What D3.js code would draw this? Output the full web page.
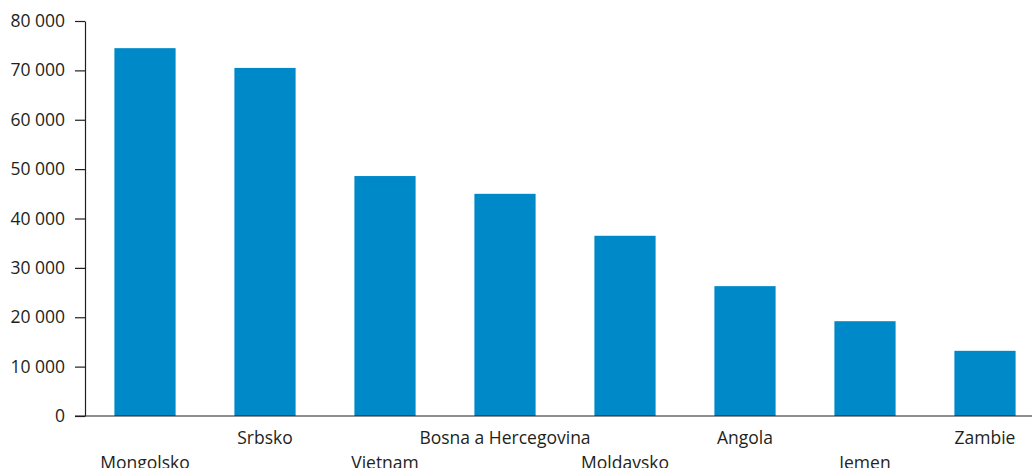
<!DOCTYPE html>
<html>
<head>
<meta charset="utf-8">
<script src="https://cdn.jsdelivr.net/npm/d3@7"></script>
<style>
  body { margin: 0; background: white; }
  text { font-family: "Open Sans", sans-serif; fill: #231f20; }
</style>
</head>
<body>
<svg id="chart" width="1032" height="468"></svg>
<script>
// Données
const countries = ['Mongolsko', 'Srbsko', 'Vietnam', 'Bosna a Hercegovina', 'Moldavsko', 'Angola', 'Jemen', 'Zambie']
const values = [74500, 70500, 48600, 45000, 36500, 26300, 19200, 13200]
const yTicks = [0, 10000, 20000, 30000, 40000, 50000, 60000, 70000, 80000]

// Constantes de mise en page
const axisX = 85
const yTop = 21
const yZero = 416
const barColor = '#0089c9'
const tickLen = 10
const fontSize = 17.5

const svg = d3.select('#chart')

const x = d3.scaleBand()
  .domain(countries)
  .range([axisX, axisX + 960])
  .paddingInner(0.49)
  .paddingOuter(0.245)

const y = d3.scaleLinear()
  .domain([0, 80000])
  .range([yZero, yTop])

// Barres
svg.selectAll('rect.bar')
  .data(countries)
  .enter()
  .append('rect')
  .attr('class', 'bar')
  .attr('x', d => x(d))
  .attr('width', x.bandwidth())
  .attr('y', (d, i) => y(values[i]))
  .attr('height', (d, i) => yZero - y(values[i]))
  .attr('fill', barColor)

// Axe vertical
const fmt = v => d3.format(',')(v).replace(/,/g, ' ')
const yAxis = d3.axisLeft(y)
  .tickValues(yTicks)
  .tickFormat(fmt)
  .tickSize(tickLen)
  .tickPadding(10)
  .tickSizeOuter(0)

const gy = svg.append('g')
  .attr('transform', 'translate(' + axisX + ',0)')
  .call(yAxis)
gy.select('.domain').attr('stroke', '#231f20').attr('stroke-width', 1.2)
gy.selectAll('.tick line').attr('stroke', '#231f20').attr('stroke-width', 1.2)
gy.selectAll('.tick text')
  .style('font-family', '"Open Sans", sans-serif')
  .style('font-size', fontSize + 'px')
  .attr('fill', '#231f20')

// Ligne de base
svg.append('line')
  .attr('x1', axisX - tickLen)
  .attr('x2', 1032)
  .attr('y1', yZero)
  .attr('y2', yZero)
  .attr('stroke', '#231f20')
  .attr('stroke-width', 1.2)

// Étiquettes des catégories, en alternance sur deux lignes
svg.selectAll('text.cat')
  .data(countries)
  .enter()
  .append('text')
  .attr('class', 'cat')
  .attr('x', d => x(d) + x.bandwidth() / 2)
  .attr('y', (d, i) => i % 2 === 0 ? 469 : 444)
  .attr('text-anchor', 'middle')
  .style('font-size', fontSize + 'px')
  .text(d => d)
</script>
</body>
</html>
